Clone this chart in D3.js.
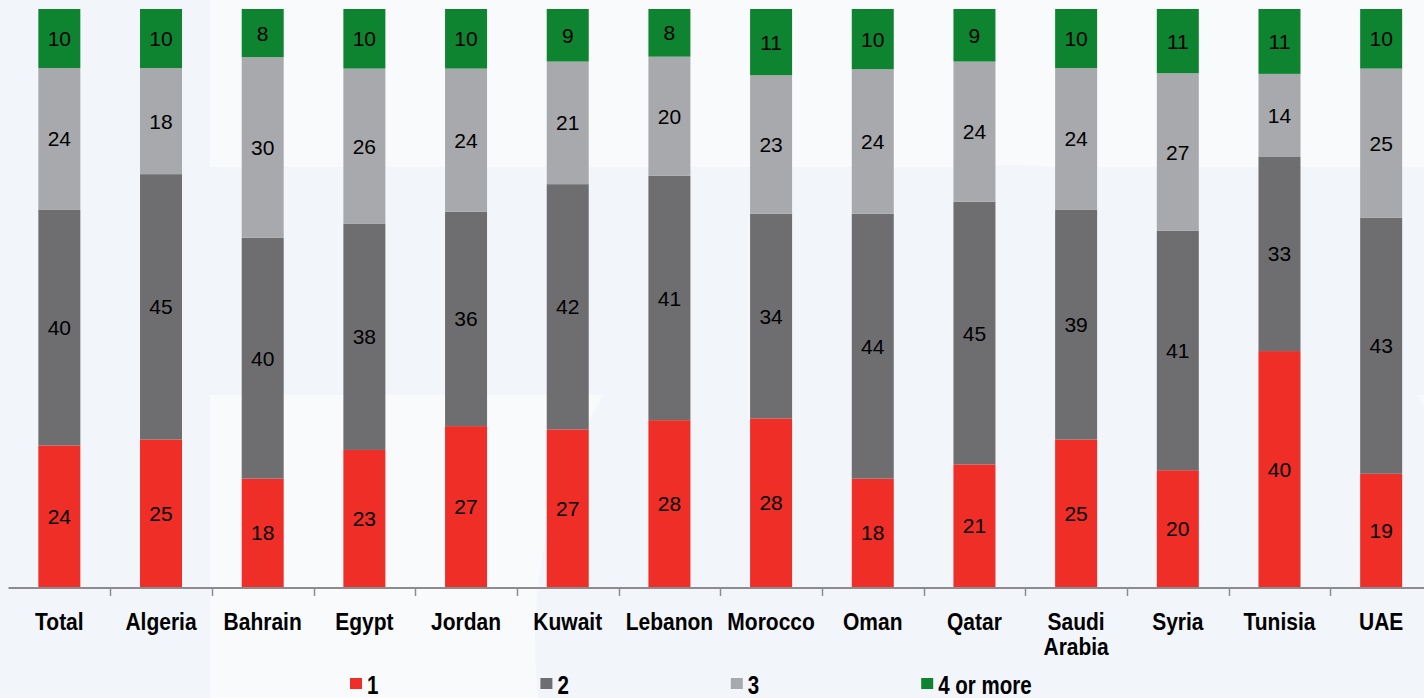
<!DOCTYPE html>
<html>
<head>
<meta charset="utf-8">
<script src="https://cdn.jsdelivr.net/npm/d3@7"></script>
<style>
  html, body { margin: 0; padding: 0; background: #f2f5fa; }
  svg { display: block; }
</style>
</head>
<body>
<svg id="chart" width="1424" height="698"></svg>
<script>
// Household size shares by country (percent), stacked to 100%
const categories = ["Total", "Algeria", "Bahrain", "Egypt", "Jordan", "Kuwait", "Lebanon",
  "Morocco", "Oman", "Qatar", "Saudi Arabia", "Syria", "Tunisia", "UAE"];
const seriesNames = ["1", "2", "3", "4 or more"];
const one      = [24, 25, 18, 23, 27, 27, 28, 28, 18, 21, 25, 20, 40, 19];
const two      = [40, 45, 40, 38, 36, 42, 41, 34, 44, 45, 39, 41, 33, 43];
const three    = [24, 18, 30, 26, 24, 21, 20, 23, 24, 24, 24, 27, 14, 25];
const fourPlus = [10, 10,  8, 10, 10,  9,  8, 11, 10,  9, 10, 11, 11, 10];

const colors = ["#ee2e27", "#6e6e70", "#a8a9ac", "#0e8431"];

const svg = d3.select("#chart");
const W = 1424, H = 698;

// Soft background watermark shapes
const bg = svg.append("g");
bg.append("rect").attr("width", W).attr("height", H).attr("fill", "#f2f5fa");
bg.append("rect").attr("x", 210).attr("y", 0).attr("width", W - 210).attr("height", 167).attr("fill", "#f9fafc");
bg.append("rect").attr("x", 210).attr("y", 395).attr("width", W - 210).attr("height", H - 395).attr("fill", "#f9fafc");
bg.append("circle").attr("cx", 1010).attr("cy", 640).attr("r", 475).attr("fill", "#f2f5fa");
bg.append("rect").attr("x", 0).attr("y", 167).attr("width", 1100).attr("height", 228).attr("fill", "#f2f5fa");

const rows = categories.map((c, i) => ({
  category: c,
  "1": one[i], "2": two[i], "3": three[i], "4 or more": fourPlus[i]
}));

const stacked = d3.stack().keys(seriesNames).offset(d3.stackOffsetExpand)(rows);

const x = d3.scaleBand()
  .domain(categories)
  .range([8.5, 1432])
  .paddingInner(0.587)
  .paddingOuter(0.2935);

const y = d3.scaleLinear().domain([0, 1]).range([587, 9]);

const rawValues = [one, two, three, fourPlus];

// Bars
const layers = svg.append("g").selectAll("g.layer")
  .data(stacked)
  .join("g")
  .attr("class", "layer")
  .attr("fill", (d, i) => colors[i]);

layers.selectAll("rect")
  .data(d => d)
  .join("rect")
  .attr("x", d => x(d.data.category))
  .attr("width", x.bandwidth())
  .attr("y", d => y(d[1]))
  .attr("height", d => y(d[0]) - y(d[1]));

// Value labels centred in each segment
const labels = svg.append("g")
  .attr("font-family", "'Liberation Sans', Arial, sans-serif")
  .attr("font-size", 21)
  .attr("fill", "#000")
  .attr("text-anchor", "middle");

stacked.forEach((layer, si) => {
  layer.forEach((d, ci) => {
    labels.append("text")
      .attr("x", x(d.data.category) + x.bandwidth() / 2)
      .attr("y", (y(d[0]) + y(d[1])) / 2)
      .attr("dy", "0.36em")
      .text(rawValues[si][ci]);
  });
});

// Category axis with ticks between categories
const axis = svg.append("g");
const step = x.step();
const gap = step - x.bandwidth();
axis.append("line")
  .attr("x1", 8.5).attr("x2", W)
  .attr("y1", 588).attr("y2", 588)
  .attr("stroke", "#8c8c8e").attr("stroke-width", 2);
categories.slice(1).forEach(c => {
  const tx = Math.round(x(c) - gap / 2) + 0.5;
  axis.append("line")
    .attr("x1", tx).attr("x2", tx)
    .attr("y1", 588).attr("y2", 596)
    .attr("stroke", "#8c8c8e").attr("stroke-width", 1.5);
});

const catLabels = svg.append("g")
  .attr("font-family", "'Liberation Sans', Arial, sans-serif")
  .attr("font-weight", "bold")
  .attr("font-size", 21)
  .attr("fill", "#000")
  .attr("text-anchor", "middle");

categories.forEach(c => {
  const t = catLabels.append("text")
    .attr("transform", `translate(${x(c) + x.bandwidth() / 2},630) scale(1,1.1)`);
  c.split(" ").forEach((w, i) => {
    t.append("tspan").attr("x", 0).attr("dy", i === 0 ? 0 : 22.7).text(w);
  });
});

// Legend
const legend = svg.append("g");
const legendX0 = 350, legendStep = 190.4;
seriesNames.forEach((name, i) => {
  const lx = legendX0 + i * legendStep;
  legend.append("rect")
    .attr("x", lx).attr("y", 678)
    .attr("width", 12).attr("height", 11)
    .attr("fill", colors[i]);
  legend.append("text")
    .attr("transform", `translate(${lx + 17},694) scale(0.82,1)`)
    .attr("font-family", "'Liberation Sans', Arial, sans-serif")
    .attr("font-weight", "bold")
    .attr("font-size", 25)
    .attr("fill", "#000")
    .text(name);
});
</script>
</body>
</html>
